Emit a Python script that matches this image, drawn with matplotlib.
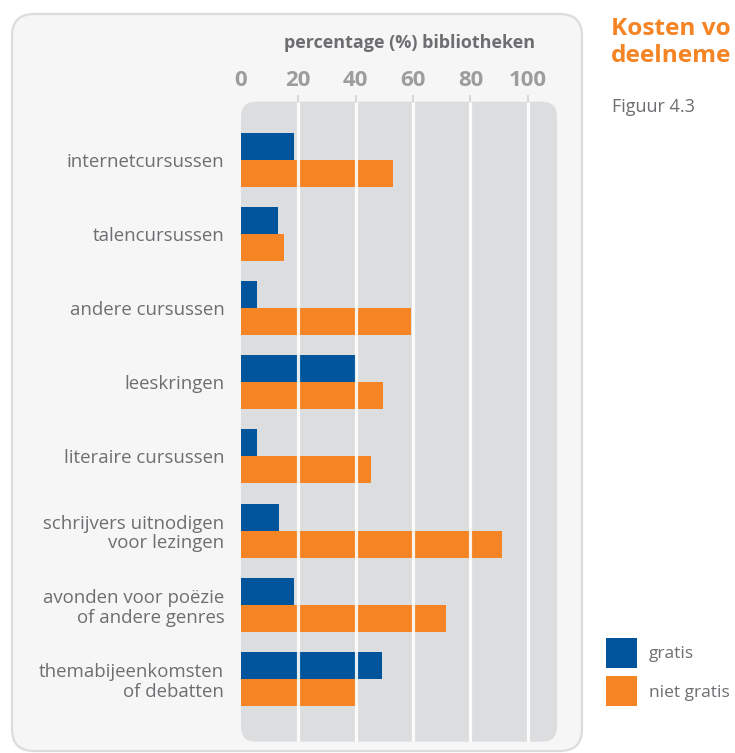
import matplotlib
matplotlib.use('Agg')
import matplotlib.pyplot as plt
from matplotlib.patches import FancyBboxPatch, Patch

# Data
categories = ['internetcursussen', 'talencursussen', 'andere cursussen', 'leeskringen',
              'literaire cursussen', 'schrijvers uitnodigen\nvoor lezingen',
              'avonden voor poëzie\nof andere genres', 'themabijeenkomsten\nof debatten']
gratis = [18.5, 13, 5.5, 40, 5.6, 13.3, 18.5, 49]
niet_gratis = [53, 15, 59.3, 49.5, 45.3, 91, 71.5, 40]
ticks = [0, 20, 40, 60, 80, 100]
series_names = ['gratis', 'niet gratis']

BLUE = '#00549c'
ORANGE = '#f58424'
PLOT_GRAY = '#dcdddf'
PANEL = '#f6f6f6'
TEXT = '#6d6e71'

plt.rcParams['font.family'] = ['Open Sans', 'DejaVu Sans']

W, H = 735, 753
fig = plt.figure(figsize=(W / 100, H / 100), dpi=100)
fig.patch.set_facecolor('white')

def px(x0, y0, x1, y1):
    # pixel box (from top-left) -> figure fraction rect
    return x0 / W, 1 - y1 / H, (x1 - x0) / W, (y1 - y0) / H

# outer panel
x, y, w, h = px(12, 14, 582, 751)
fig.patches.append(FancyBboxPatch((x, y), w, h, boxstyle='round,pad=0,rounding_size=%f' % (22 / W),
                                  mutation_aspect=W / H, transform=fig.transFigure,
                                  facecolor=PANEL, edgecolor='#dcdcdc', linewidth=1.6, zorder=-10))

# gray plot area
x, y, w, h = px(241, 101.7, 557, 741.7)
fig.patches.append(FancyBboxPatch((x, y), w, h, boxstyle='round,pad=0,rounding_size=%f' % (15 / W),
                                  mutation_aspect=W / H, transform=fig.transFigure,
                                  facecolor=PLOT_GRAY, edgecolor='none', zorder=-5))

ax = fig.add_axes([x, y, w, h])
ax.set_facecolor('none')
for s in ax.spines.values():
    s.set_visible(False)

n = len(categories)
pos = list(range(n))
bh = 27 / 74.18
ax.barh([p - bh / 2 for p in pos], gratis, height=bh, color=BLUE, zorder=1)
ax.barh([p + bh / 2 for p in pos], niet_gratis, height=bh, color=ORANGE, zorder=1)

ax.set_xlim(0, 110.2)
ax.set_ylim(7.845, -0.783)
ax.vlines(ticks[1:], 7.845, -0.783, color='white', linewidth=2.3, alpha=0.9, zorder=3)

ax.set_yticks(pos)
ax.set_yticklabels(categories, fontsize=13.4, color=TEXT, linespacing=1.12)
ax.tick_params(axis='y', length=0, pad=12)

ax.xaxis.tick_top()
ax.set_xticks(ticks)
ax.set_xticklabels([str(t) for t in ticks], fontsize=16, fontweight='bold', color='#9d9d9f')
ax.tick_params(axis='x', length=5, width=1.4, color='#d8d8d8', pad=3)
ax.xaxis.get_major_ticks()[0].tick2line.set_visible(False)

ax.text(0.533, 1.0 + 59 / 640, 'percentage (%) bibliotheken', transform=ax.transAxes,
        ha='center', va='center', fontsize=13, fontweight='bold', color=TEXT)

# title and figure number (the reference cuts them at the right edge)
fig.text(611 / W, 1 - 17 / H, 'Kosten vo\ndeelneme', ha='left', va='top',
         fontsize=17.6, fontweight='bold', color=ORANGE, linespacing=1.18)
fig.text(612 / W, 1 - 107 / H, 'Figuur 4.3', ha='left', va='center', fontsize=13, color=TEXT)

handles = [Patch(facecolor=BLUE), Patch(facecolor=ORANGE)]
fig.legend(handles, series_names, loc='upper left', bbox_to_anchor=(606 / W, 1 - 638 / H),
           frameon=False, fontsize=12.5, handlelength=1.78, handleheight=2.25,
           labelspacing=0.5, handletextpad=0.7, borderpad=0, borderaxespad=0,
           labelcolor=TEXT)

fig.savefig('out.png', dpi=100)
